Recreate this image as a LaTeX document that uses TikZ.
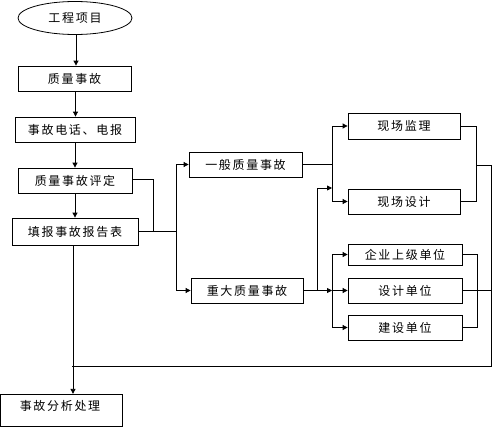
\documentclass[tikz,border=0pt]{standalone}
\usepackage{fontspec}
\newfontfamily\cjk[LetterSpace=14]{Noto Sans CJK SC}
\usetikzlibrary{arrows.meta,shapes.geometric}
\begin{document}
\begin{tikzpicture}[x=1pt,y=-1pt,
  box/.style={draw,line width=0.8pt,inner sep=0pt,font=\cjk\fontsize{12}{12}\selectfont},
  line/.style={line width=0.8pt},
  arr/.style={line width=0.8pt,-{Triangle[length=5pt,width=5pt]}}]
\useasboundingbox (0,0) rectangle (492,428);
% left column
\node[box,ellipse,minimum width=114pt,minimum height=33pt] (s) at (75,18) {工程项目};
\node[box,minimum width=113pt,minimum height=25pt] (q1) at (74.5,78.5) {质量事故};
\node[box,minimum width=120pt,minimum height=25pt] (q2) at (75,129.5) {事故电话、电报};
\node[box,minimum width=114pt,minimum height=25pt] (q3) at (75,180.5) {质量事故评定};
\node[box,minimum width=126pt,minimum height=27pt] (q4) at (75,231.5) {填报事故报告表};
\node[box,minimum width=122pt,minimum height=32.5pt] (q5) at (61.6,410.5) {};
\node[font=\cjk\fontsize{12}{12}\selectfont,inner sep=0pt] (q5t) at (60,406) {事故分析处理};
% middle
\node[box,minimum width=113pt,minimum height=25pt] (g) at (245.5,164.5) {一般质量事故};
\node[box,minimum width=112pt,minimum height=25pt] (z) at (247,290.5) {重大质量事故};
% right
\node[box,minimum width=112pt,minimum height=26pt] (a) at (404,126) {现场监理};
\node[box,minimum width=112pt,minimum height=25pt] (b) at (404,201.5) {现场设计};
\node[box,minimum width=114pt,minimum height=21pt] (c) at (405,254.5) {企业上级单位};
\node[box,minimum width=114pt,minimum height=25pt] (d) at (405,290.5) {设计单位};
\node[box,minimum width=114pt,minimum height=25pt] (e) at (405,327.5) {建设单位};
% coordinates
\coordinate (m1) at (153,231.5);
\coordinate (J) at (176,231.5);
\coordinate (K1) at (332,164.5);
\coordinate (L) at (317,290.5);
\coordinate (K1b) at (332,188);
\coordinate (K2) at (332,290.5);
\coordinate (R1) at (476,201.5);
\coordinate (R1m) at (476,165);
\coordinate (R2) at (477,327.5);
\coordinate (RR) at (491.2,165);
\coordinate (RB) at (491.2,366);
\coordinate (LB) at (72,366);
% vertical chain
\draw[arr] ([xshift=1pt]s.south) -- ([xshift=1pt]s.south |- q1.north);
\draw[arr] ([xshift=1pt]q1.south) -- ([xshift=1pt]q1.south |- q2.north);
\draw[arr] (q2.south) -- (q2.south |- q3.north);
\draw[arr] (q3.south) -- (q3.south |- q4.north);
\draw[arr] ([xshift=-2pt]q4.south) -- ([xshift=-2pt]q4.south |- q5.north);
% to middle
\draw[line] ([yshift=1.5pt]q3.east) -| (m1);
\draw[line] (q4.east) -- (J);
\draw[arr] (J) |- (g.west);
\draw[arr] (J) |- (z.west);
% general accident
\draw[line] (g.east) -- (K1);
\draw[arr] (K1) |- (a.west);
\draw[arr] (K1) |- (b.west);
% major accident
\draw[arr] (z.east) -- (L) |- (K1b);
\draw[arr] (L) -- (K2);
\draw[arr] (K2) |- (c.west);
\draw[arr] (K2) -- (d.west);
\draw[arr] (K2) |- (e.west);
% right side collection
\draw[line] (a.east) -| (R1) -- (b.east);
\draw[line] (R1m) -- (RR) -- (RB) -- (LB);
\draw[line] (c.east) -| (R2) -- (e.east);
\draw[line] (d.east) -- (d.east -| RR);
\end{tikzpicture}
\end{document}
